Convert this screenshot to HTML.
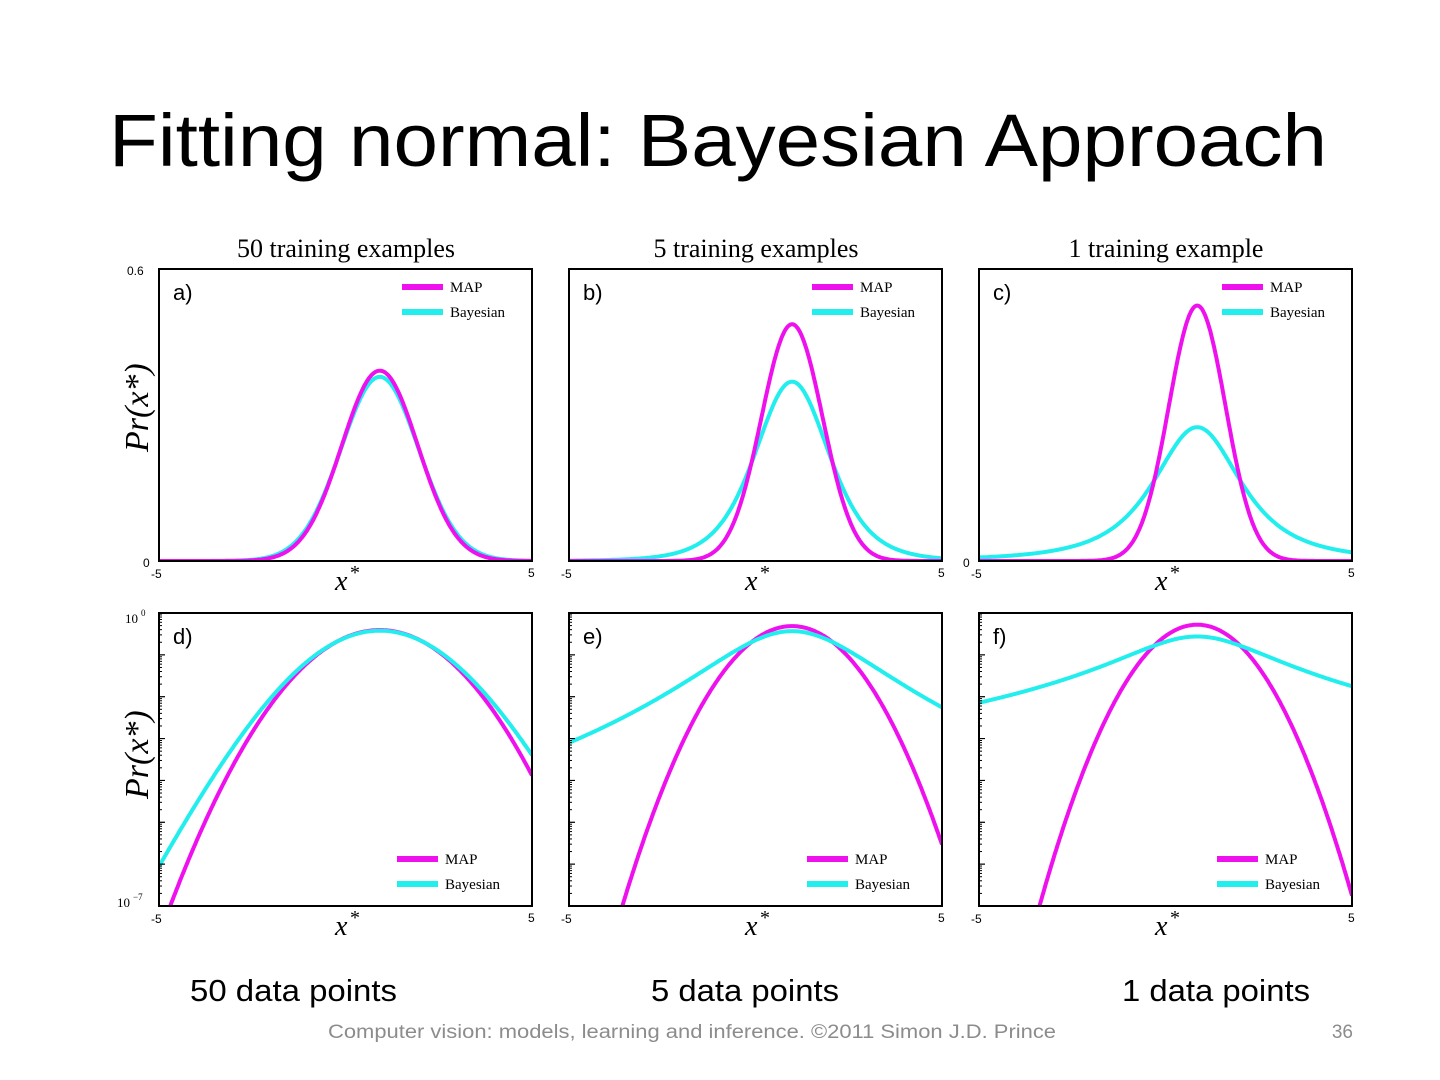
<!DOCTYPE html>
<html><head><meta charset="utf-8"><style>
html,body{margin:0;padding:0;background:#fff;}
svg{display:block;}
</style></head><body>
<svg id="s" width="1440" height="1080" xmlns="http://www.w3.org/2000/svg">
<text x="718" y="166" text-anchor="middle" font-family="Liberation Sans, sans-serif" font-size="74" textLength="1218" lengthAdjust="spacingAndGlyphs" fill="#000">Fitting normal: Bayesian Approach</text>
<g font-family="Liberation Serif, serif" font-size="26" fill="#000" text-anchor="middle">
<text x="346" y="257">50 training examples</text>
<text x="756" y="257">5 training examples</text>
<text x="1166" y="257">1 training example</text>
</g>
<g font-family="Liberation Sans, sans-serif" font-size="31" fill="#000">
<text x="190" y="1001" textLength="207" lengthAdjust="spacingAndGlyphs">50 data points</text>
<text x="651" y="1001" textLength="188" lengthAdjust="spacingAndGlyphs">5 data points</text>
<text x="1122" y="1001" textLength="188" lengthAdjust="spacingAndGlyphs">1 data points</text>
</g>
<text x="328" y="1038" font-family="Liberation Sans, sans-serif" font-size="19" fill="#8c8c8c" textLength="728" lengthAdjust="spacingAndGlyphs">Computer vision: models, learning and inference.  ©2011 Simon J.D. Prince</text>
<text x="1353" y="1038" text-anchor="end" font-family="Liberation Sans, sans-serif" font-size="19" fill="#8c8c8c">36</text>
<g id="plots"></g>
</svg>
<script>
var NS="http://www.w3.org/2000/svg";
var g=document.getElementById('plots');
function el(t,a,txt){var e=document.createElementNS(NS,t);for(var k in a)e.setAttribute(k,a[k]);if(txt!==undefined)e.textContent=txt;g.appendChild(e);return e;}
function gam(z){if(z===0.5)return Math.sqrt(Math.PI);if(z===1)return 1;if(z<1)return gam(z+1)/z;return (z-1)*gam(z-1);}
function tpdf(x,mu,s,nu){var c=gam((nu+1)/2)/(Math.sqrt(nu*Math.PI)*gam(nu/2))/s;var d=(x-mu)/s;return c*Math.pow(1+d*d/nu,-(nu+1)/2);}
function npdf(x,mu,s){var d=(x-mu)/s;return Math.exp(-0.5*d*d)/(s*Math.sqrt(2*Math.PI));}
var cols=[159,569,979];
var params=[
 {mu:0.92,s:1.02,bs:1.05,nu:60},
 {mu:0.98,s:0.82,bs:1.03,nu:5},
 {mu:0.85,s:0.76,bs:1.286,nu:2}];
var lab=[['a)','b)','c)'],['d)','e)','f)']];
for(var r=0;r<2;r++){
 var y0=r?613:269,y1=r?906:561;
 for(var c=0;c<3;c++){
  var x0=cols[c],x1=x0+373,p=params[c];
  var clip='cl'+r+c;
  var cp=el('clipPath',{id:clip});
  var rc=document.createElementNS(NS,'rect');rc.setAttribute('x',x0);rc.setAttribute('y',y0);rc.setAttribute('width',373);rc.setAttribute('height',y1-y0);cp.appendChild(rc);
  function Y(v){ if(r===0) return y1-v/0.6*(y1-y0); var l=Math.log10(Math.max(v,1e-12)); return y0+(-l)/7*(y1-y0);}
  var dm='',db='';
  for(var i=0;i<=300;i++){var x=-5+10*i/300;var px=x0+(x+5)/10*373;
   dm+=(i?'L':'M')+px.toFixed(1)+' '+Y(npdf(x,p.mu,p.s)).toFixed(1);
   db+=(i?'L':'M')+px.toFixed(1)+' '+Y(tpdf(x,p.mu,p.bs,p.nu)).toFixed(1);}
  var first=r===0?[db,dm]:[dm,db];var fc=r===0?['#22eeee','#ee11ee']:['#ee11ee','#22eeee'];
  el('path',{d:first[0],fill:'none',stroke:fc[0],'stroke-width':4,'clip-path':'url(#'+clip+')'});
  el('path',{d:first[1],fill:'none',stroke:fc[1],'stroke-width':4,'clip-path':'url(#'+clip+')'});
  el('rect',{x:x0,y:y0,width:373,height:y1-y0,fill:'none',stroke:'#000','stroke-width':2});
  if(r===1){
   for(var dec=0;dec<7;dec++){for(var m=1;m<=10;m++){var yy=y0+(dec+1-Math.log10(m))/7*(y1-y0);var len=(m===1||m===10)?6:3;el('line',{x1:x0,y1:yy,x2:x0+len,y2:yy,stroke:'#000','stroke-width':1});}}
  }
  el('text',{x:x0+14,y:y0+31,'font-family':'Liberation Sans, sans-serif','font-size':22},lab[r][c]);
  var ly=r?y0+246:y0+18;
  el('line',{x1:x0+243-(r?5:0),y1:ly,x2:x0+284-(r?5:0),y2:ly,stroke:'#ee11ee','stroke-width':6});
  el('line',{x1:x0+243-(r?5:0),y1:ly+25,x2:x0+284-(r?5:0),y2:ly+25,stroke:'#22eeee','stroke-width':6});
  el('text',{x:x0+291-(r?5:0),y:ly+5,'font-family':'Liberation Serif, serif','font-size':15},'MAP');
  el('text',{x:x0+291-(r?5:0),y:ly+30,'font-family':'Liberation Serif, serif','font-size':15},'Bayesian');
  el('text',{x:x0-8,y:y1+17,'font-family':'Liberation Sans, sans-serif','font-size':12},'-5');
  el('text',{x:x1-4,y:y1+16,'font-family':'Liberation Sans, sans-serif','font-size':12},'5');
  el('text',{x:x0+176,y:y1+29,'font-family':'Liberation Serif, serif','font-size':28,'font-style':'italic'},'x');
  el('text',{x:x0+191,y:y1+18,'font-family':'Liberation Serif, serif','font-size':20},'*');
 }
}
el('text',{x:127,y:275,'font-family':'Liberation Sans, sans-serif','font-size':12},'0.6');
el('text',{x:143,y:567,'font-family':'Liberation Sans, sans-serif','font-size':12},'0');
el('text',{x:963,y:567,'font-family':'Liberation Sans, sans-serif','font-size':12},'0');
el('text',{x:125,y:623,'font-family':'Liberation Serif, serif','font-size':13},'10');
el('text',{x:141,y:616,'font-family':'Liberation Serif, serif','font-size':9},'0');
el('text',{x:117,y:907,'font-family':'Liberation Serif, serif','font-size':13},'10');
el('text',{x:133,y:900,'font-family':'Liberation Serif, serif','font-size':9},'−7');
[405,752].forEach(function(cy){
 el('text',{x:0,y:0,transform:'translate(148,'+(cy+47)+') rotate(-90)','font-family':'Liberation Serif, serif','font-size':34,'font-style':'italic'},'Pr(x*)');
});
</script>
</body></html>
